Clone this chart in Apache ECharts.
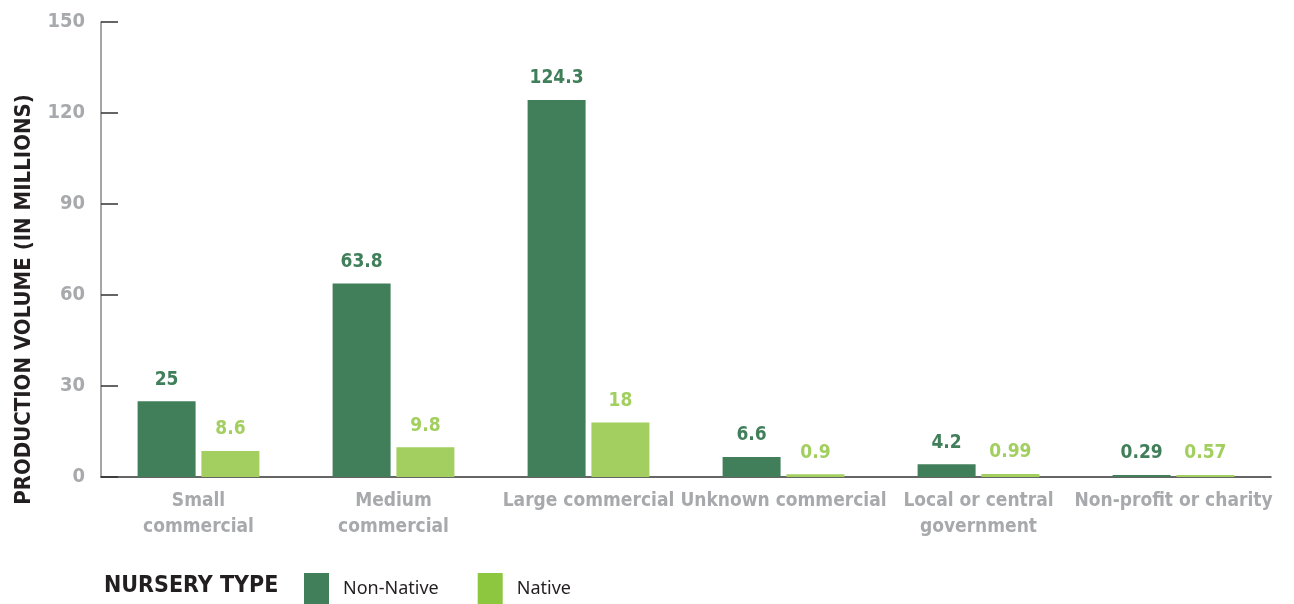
<!DOCTYPE html>
<html>
<head>
<meta charset="utf-8">
<script src="https://cdn.jsdelivr.net/npm/echarts@6/dist/echarts.min.js"></script>
<style>
  html, body { margin: 0; padding: 0; background: #fff; }
  #chart { width: 1294px; height: 604px; }
</style>
</head>
<body>
<div id="chart"></div>
<script>
const categories = [
  'Small\ncommercial',
  'Medium\ncommercial',
  'Large commercial',
  'Unknown commercial',
  'Local or central\ngovernment',
  'Non-profit or charity',
];
const nonNative = [25, 63.8, 124.3, 6.6, 4.2, 0.29];
const native = [8.6, 9.8, 18, 0.9, 0.99, 0.57];
const yTicks = [0, 30, 60, 90, 120, 150];

const darkGreen = '#417f5b';
const lightGreen = '#a2cf5f';
const legendLight = '#8dc63f';
const narrow = '"DejaVu Sans Condensed", "Liberation Sans Narrow", sans-serif';

const chart = echarts.init(document.getElementById('chart'));

const barLabel = (color) => ({
  show: true,
  position: 'top',
  distance: 12,
  color,
  fontFamily: narrow,
  fontWeight: 'bold',
  fontSize: 19,
});

chart.setOption({
  animation: false,
  title: {
    text: 'NURSERY TYPE',
    left: 99,
    top: 570,
    textStyle: { fontFamily: narrow, fontWeight: 'bold', fontSize: 23, color: '#231f20' },
  },
  legend: {
    left: 304,
    top: 573,
    padding: 0,
    itemWidth: 25,
    itemHeight: 31,
    itemGap: 39,
    icon: 'rect',
    textStyle: { fontFamily: '"Noto Sans", sans-serif', fontSize: 18, color: '#231f20', padding: [0, 0, 2, 9] },
    data: [
      { name: 'Non-Native', itemStyle: { color: darkGreen } },
      { name: 'Native', itemStyle: { color: legendLight } },
    ],
  },
  grid: { left: 101, right: 23, top: 22, bottom: 127, containLabel: false, outerBoundsMode: 'none' },
  xAxis: {
    type: 'category',
    data: categories,
    axisLine: { show: true, lineStyle: { color: '#333', width: 1.5 } },
    axisTick: { show: false },
    axisLabel: {
      interval: 0,
      margin: 11,
      color: '#a7a9ac',
      fontFamily: narrow,
      fontWeight: 'bold',
      fontSize: 19,
      lineHeight: 26,
    },
  },
  yAxis: {
    type: 'value',
    min: yTicks[0],
    max: yTicks[yTicks.length - 1],
    interval: yTicks[1] - yTicks[0],
    name: 'PRODUCTION VOLUME (IN MILLIONS)',
    nameLocation: 'middle',
    nameRotate: 90,
    nameGap: 66,
    nameTextStyle: {
      fontFamily: narrow,
      fontWeight: 'bold',
      fontSize: 22,
      color: '#231f20',
      padding: [0, 100, 0, 0],
    },
    splitLine: { show: false },
    axisLine: { show: true, lineStyle: { color: '#888', width: 1.5 } },
    axisTick: { show: true, inside: true, length: 17, lineStyle: { color: '#333', width: 1.5 } },
    axisLabel: {
      margin: 16,
      color: '#a7a9ac',
      fontFamily: narrow,
      fontWeight: 'bold',
      fontSize: 20,
    },
  },
  series: [
    {
      name: 'Non-Native',
      type: 'bar',
      data: nonNative,
      barWidth: 58,
      barGap: '10%',
      barMinHeight: 2,
      itemStyle: { color: darkGreen },
      label: barLabel(darkGreen),
    },
    {
      name: 'Native',
      type: 'bar',
      data: native,
      barWidth: 58,
      barMinHeight: 2,
      itemStyle: { color: lightGreen },
      label: barLabel(lightGreen),
    },
  ],
});

window.addEventListener('resize', () => chart.resize());
</script>
</body>
</html>
